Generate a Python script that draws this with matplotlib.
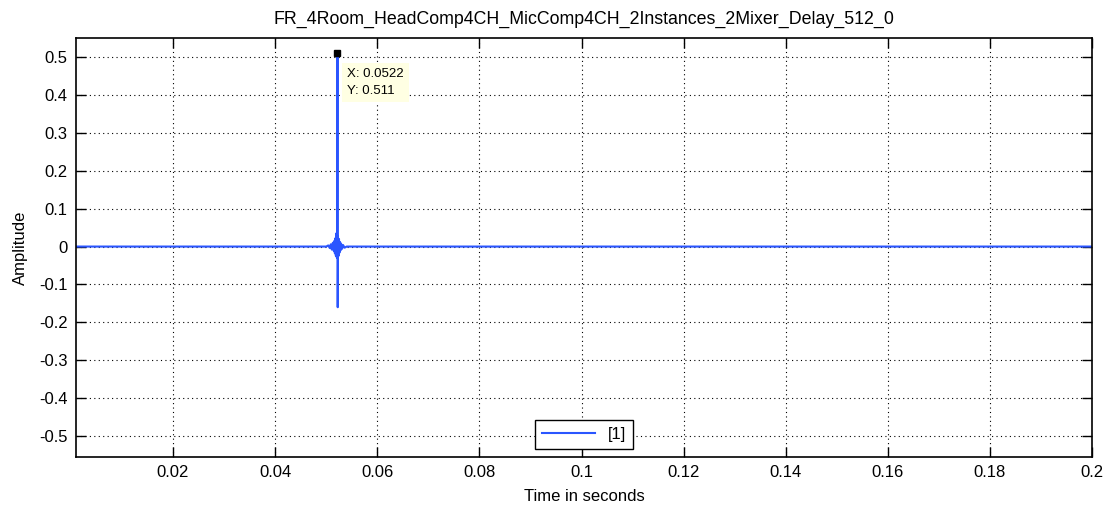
import matplotlib
matplotlib.use('Agg')
import matplotlib.pyplot as plt

# impulse response samples
t = [0.001, 0.0500, 0.0504, 0.0507, 0.0509, 0.0511, 0.0513, 0.0515, 0.0516, 0.0517,
     0.0518, 0.0519, 0.0520, 0.0521, 0.05215, 0.0522, 0.05225, 0.0523, 0.0524, 0.0525,
     0.0526, 0.0527, 0.0528, 0.0529, 0.0531, 0.0533, 0.0536, 0.0540, 0.2]
amp = [0.0, 0.0, 0.003, -0.004, 0.006, -0.008, 0.010, -0.012, 0.015, -0.018,
       0.022, -0.025, 0.035, -0.03, 0.02, 0.511, -0.16, 0.028, -0.025, 0.02,
       -0.016, 0.012, -0.01, 0.008, -0.006, 0.004, -0.003, 0.0, 0.0]

cursor_x = 0.0522
cursor_y = 0.511

title = 'FR_4Room_HeadComp4CH_MicComp4CH_2Instances_2Mixer_Delay_512_0'
xticks = [0.02, 0.04, 0.06, 0.08, 0.1, 0.12, 0.14, 0.16, 0.18, 0.2]
xticklabels = ['0.02', '0.04', '0.06', '0.08', '0.1', '0.12', '0.14', '0.16', '0.18', '0.2']
yticks = [0.5, 0.4, 0.3, 0.2, 0.1, 0.0, -0.1, -0.2, -0.3, -0.4, -0.5]
yticklabels = ['0.5', '0.4', '0.3', '0.2', '0.1', '0', '-0.1', '-0.2', '-0.3', '-0.4', '-0.5']

plt.rcParams['font.family'] = ['Liberation Sans', 'DejaVu Sans']
plt.rcParams['font.size'] = 11

fig = plt.figure(figsize=(11.07, 5.11), dpi=100)
ax = fig.add_axes([0.0687, 0.1057, 0.9178, 0.8199])

ax.plot(t, amp, color='#2a55ff', lw=1.5, label='[1]')
ax.plot([cursor_x], [cursor_y], 's', color='black', ms=5, zorder=5)
ax.annotate(f'X: {cursor_x}\nY: {cursor_y}', (cursor_x, cursor_y), xytext=(7, -11),
            textcoords='offset points', ha='left', va='top', fontsize=9.5, linespacing=1.5,
            bbox=dict(boxstyle='square,pad=0.4', fc='#ffffe3', ec='none'), zorder=6)

ax.set_xlim(0.001, 0.2)
ax.set_ylim(-0.555, 0.55)
ax.set_xticks(xticks)
ax.set_xticklabels(xticklabels)
ax.set_yticks(yticks)
ax.set_yticklabels(yticklabels)
ax.tick_params(direction='in', length=7, width=1, top=True, right=True, labelsize=12, pad=6)
ax.grid(True, color='black', linestyle=(0, (1, 3)), lw=0.8)
for s in ax.spines.values():
    s.set_linewidth(1.2)

ax.set_title(title, fontsize=12.8, pad=10)
ax.set_xlabel('Time in seconds', fontsize=12, labelpad=6)
ax.set_ylabel('Amplitude', fontsize=12, labelpad=8)

leg = ax.legend(loc='lower center', fancybox=False, framealpha=1, edgecolor='black',
                handlelength=3.2, borderaxespad=0.5, fontsize=12)
leg.get_frame().set_linewidth(1.0)

fig.savefig('out.png', dpi=100)
